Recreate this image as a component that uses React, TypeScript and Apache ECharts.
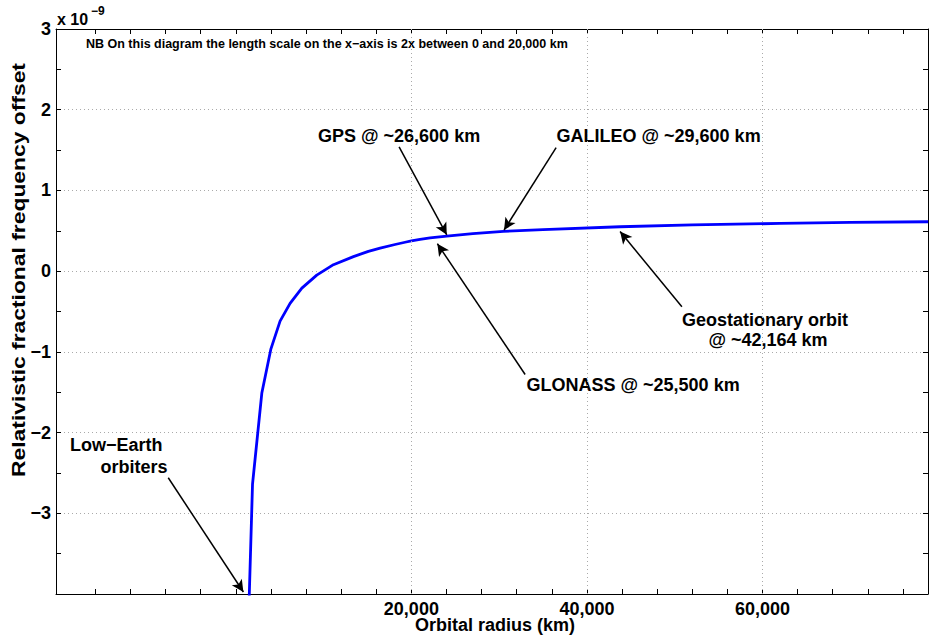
import React, { useEffect, useRef } from 'react';
import * as echarts from 'echarts';

// Curve: orbital radius (km) and offset (x 1e-9)
const radiusKm = [10750, 10950, 11480, 11990, 12520, 13090, 13760, 14610, 15560, 16700, 17550, 18220, 19070, 19640, 20000, 20990, 22130, 24030, 27000, 30480, 35000, 43780, 52000, 62020, 70000, 78880];
const offsetE9 = [-4.13, -2.64, -1.51, -0.97, -0.62, -0.40, -0.21, -0.05, 0.08, 0.18, 0.245, 0.284, 0.330, 0.358, 0.374, 0.393, 0.411, 0.435, 0.465, 0.492, 0.515, 0.550, 0.573, 0.591, 0.603, 0.612];

// Axis ticks / labels (km); scale is doubled between 0 and 20,000 km
const xTickKm = [2000, 4000, 6000, 8000, 10000, 12000, 14000, 16000, 18000, 20000, 24000, 28000, 32000, 36000, 40000, 44000, 48000, 52000, 56000, 60000, 64000, 68000, 72000, 76000];
const xLabelKm = [20000, 40000, 60000];
const xRangeKm = [-245, 78860];
const yRange = [-4, 3];

// Annotations: arrow tail / tip in (km, x 1e-9)
const arrowTailR = [19300, 36490, 32960, 50820, 6150];
const arrowTailV = [1.54, 1.53, -1.28, -0.44, -2.56];
const arrowTipR = [24030, 30560, 22960, 43780, 10430];
const arrowTipV = [0.45, 0.51, 0.34, 0.49, -3.975];

const FONT = '"Liberation Sans", Arial, Helvetica, sans-serif';

const toAxis = (r: number) => (r <= 20000 ? 2 * r : r + 20000);
const fromAxis = (u: number) => (u <= 40000 ? u / 2 : u - 20000);
const fmtKm = (v: number) => Math.round(v).toLocaleString('en-US');
const fmtY = (v: number) => (v === -4 ? '' : v < 0 ? '\u2212' + Math.abs(v) : String(v));

export default function App() {
  const ref = useRef<HTMLDivElement>(null);
  useEffect(() => {
    if (!ref.current) return;
    const chart = echarts.init(ref.current, undefined, { renderer: 'svg' });
    const xMin = toAxis(xRangeKm[0]);
    const xMax = toAxis(xRangeKm[1]);
    const tickVals = xTickKm.map(toAxis);
    const axisLineStyle = { color: '#000', width: 1 };
    const labelStyle = { color: '#000', fontSize: 18, fontWeight: 'bold' as const, fontFamily: FONT };
    const gridLines = xLabelKm.map((r) => ({
      xAxis: toAxis(r),
      symbol: 'none',
      lineStyle: { color: '#aaaaaa', type: [1, 3], width: 1 },
    }));
    const arrows = arrowTailR.map((r, i) => [
      { coord: [toAxis(r), arrowTailV[i]], symbol: 'none', lineStyle: { color: '#000', type: 'solid', width: 1.5 } },
      { coord: [toAxis(arrowTipR[i]), arrowTipV[i]], symbol: 'arrow', symbolSize: [9, 12] },
    ]);
    const txt = (text: string, x: number, y: number, size: number, align = 'left') => ({
      type: 'text',
      x,
      y,
      style: { text, fill: '#000', font: `bold ${size}px ${FONT}`, align, verticalAlign: 'middle' },
    });
    chart.setOption({
      animation: false,
      backgroundColor: '#fff',
      grid: { left: 56, right: 1, top: 29, bottom: 50, containLabel: false },
      xAxis: [
        {
          type: 'value', position: 'bottom', min: xMin, max: xMax,
          axisLine: { show: true, onZero: false, lineStyle: axisLineStyle },
          axisTick: { show: true, inside: true, length: 5, lineStyle: axisLineStyle, customValues: tickVals },
          axisLabel: { show: true, customValues: xLabelKm.map(toAxis), formatter: (u: number) => fmtKm(fromAxis(u)), margin: 6, ...labelStyle },
          splitLine: { show: false },
        },
        {
          type: 'value', position: 'top', min: xMin, max: xMax,
          axisLine: { show: true, onZero: false, lineStyle: axisLineStyle },
          axisTick: { show: true, inside: true, length: 5, lineStyle: axisLineStyle, customValues: tickVals },
          axisLabel: { show: false },
          splitLine: { show: false },
        },
      ],
      yAxis: [
        {
          type: 'value', position: 'left', min: yRange[0], max: yRange[1], interval: 1,
          axisLine: { show: true, onZero: false, lineStyle: axisLineStyle },
          axisTick: { show: true, inside: true, length: 5, lineStyle: axisLineStyle },
          minorTick: { show: true, splitNumber: 2, length: 5, lineStyle: axisLineStyle },
          axisLabel: { show: true, formatter: fmtY, margin: 5, ...labelStyle },
          splitLine: { show: true, lineStyle: { color: '#aaaaaa', type: [1, 3], width: 1 } },
        },
        {
          type: 'value', position: 'right', min: yRange[0], max: yRange[1], interval: 1,
          axisLine: { show: true, onZero: false, lineStyle: axisLineStyle },
          axisTick: { show: true, inside: true, length: 5, lineStyle: axisLineStyle },
          minorTick: { show: true, splitNumber: 2, length: 5, lineStyle: axisLineStyle },
          axisLabel: { show: false },
          splitLine: { show: false },
        },
      ],
      series: [
        {
          type: 'line',
          xAxisIndex: 0,
          yAxisIndex: 0,
          data: radiusKm.map((r, i) => [toAxis(r), offsetE9[i]]),
          showSymbol: false,
          clip: true,
          lineStyle: { color: '#0000ff', width: 2.8 },
          markLine: {
            silent: true,
            symbol: ['none', 'none'],
            label: { show: false },
            emphasis: { disabled: true },
            data: [...gridLines, ...arrows],
          },
        },
      ],
      graphic: [
        txt('x 10', 57, 19.5, 16),
        txt('\u22129', 91, 11, 12),
        txt('NB On this diagram the length scale on the x\u2212axis is 2x between 0 and 20,000 km', 86, 43.5, 12.5),
        txt('GPS @ ~26,600 km', 318, 136.4, 18),
        txt('GALILEO @ ~29,600 km', 556.5, 136.4, 18),
        txt('Geostationary orbit', 765, 319.5, 18, 'center'),
        txt('@ ~42,164 km', 768, 340.4, 18, 'center'),
        txt('GLONASS @ ~25,500 km', 526.5, 385.4, 18),
        txt('Low\u2212Earth', 70, 445.4, 18),
        txt('orbiters', 100.5, 467, 18),
        txt('Orbital radius (km)', 495, 625.4, 18, 'center'),
        {
          type: 'text', x: 18.5, y: 270, rotation: Math.PI / 2, scaleX: 1.27,
          style: { text: 'Relativistic fractional frequency offset', fill: '#000', font: `bold 18px ${FONT}`, align: 'center', verticalAlign: 'middle' },
        },
      ],
    });
    return () => chart.dispose();
  }, []);
  return <div ref={ref} style={{ position: 'fixed', left: 0, top: 0, width: 929, height: 644, background: '#fff' }} />;
}
